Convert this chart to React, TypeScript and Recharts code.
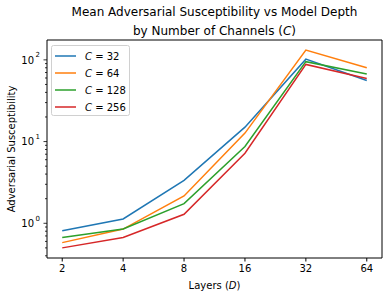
import React from 'react';
import { LineChart, Line, XAxis, YAxis } from 'recharts';

const layers = [2, 4, 8, 16, 32, 64];
const c32 = [0.81, 1.13, 3.35, 15.0, 102, 56];
const c64 = [0.58, 0.85, 2.16, 12.7, 132, 80];
const c128 = [0.67, 0.85, 1.74, 8.7, 95, 67];
const c256 = [0.5, 0.67, 1.29, 7.2, 88, 59];
const channelLabels = ['32', '64', '128', '256'];
const seriesKeys = ['c32', 'c64', 'c128', 'c256'];
const colors = ['#1f77b4', '#ff7f0e', '#2ca02c', '#d62728'];
const yMajor = [1, 10, 100];
const yMinor = [0.4, 0.5, 0.6, 0.7, 0.8, 0.9, 2, 3, 4, 5, 6, 7, 8, 9, 20, 30, 40, 50, 60, 70, 80, 90];
const yExp: Record<number, string> = { 1: '0', 10: '1', 100: '2' };

const data = layers.map((d, i) => ({ D: d, c32: c32[i], c64: c64[i], c128: c128[i], c256: c256[i] }));

const FONT = '"DejaVu Sans", sans-serif';
const M = { top: 40, right: 7, bottom: 42, left: 47 };
const W = 389;
const H = 300;

const YTick = (props: any) => {
  const { x, y, payload } = props;
  const v = payload.value;
  const major = yMajor.includes(v);
  const len = major ? 3.5 : 2;
  return (
    <g>
      <line x1={x - len} x2={x} y1={y} y2={y} stroke="#000" strokeWidth={0.8} />
      {major && (
        <text x={x - 3.5 - 3.5 - 6} y={y} dy="0.38em" textAnchor="end" fontSize={10} fontFamily={FONT} fill="#000">
          10
        </text>
      )}
      {major && (
        <text x={x - 3.5 - 3.5} y={y - 4} dy="0.2em" textAnchor="end" fontSize={7} fontFamily={FONT} fill="#000">
          {yExp[v]}
        </text>
      )}
    </g>
  );
};

export default function App() {
  return (
    <div style={{ position: 'absolute', left: 0, top: 0, width: W, height: H, background: '#fff' }}>
      <LineChart width={W} height={H} data={data} margin={{ top: M.top, right: M.right, bottom: 0, left: 0 }}>
        <XAxis
          dataKey="D"
          type="number"
          scale="log"
          domain={[2 / Math.pow(2, 0.25), 64 * Math.pow(2, 0.25)]}
          allowDataOverflow
          ticks={layers}
          interval={0}
          height={M.bottom}
          tickSize={3.5}
          tickMargin={3.5}
          stroke="#000"
          tick={{ fontSize: 10, fontFamily: FONT, fill: '#000' }}
        />
        <YAxis
          type="number"
          scale="log"
          domain={[0.376, 175]}
          allowDataOverflow
          ticks={[...yMajor, ...yMinor]}
          interval={0}
          width={M.left}
          tickSize={0}
          tickMargin={0}
          tickLine={false}
          stroke="#000"
          tick={<YTick />}
        />
        {seriesKeys.map((k, i) => (
          <Line key={k} dataKey={k} stroke={colors[i]} strokeWidth={1.5} dot={false} isAnimationActive={false} />
        ))}
      </LineChart>
      <svg width={W} height={H} style={{ position: 'absolute', left: 0, top: 0, pointerEvents: 'none' }}>
        <line x1={M.left} x2={W - M.right} y1={M.top} y2={M.top} stroke="#000" strokeWidth={1} />
        <line x1={W - M.right} x2={W - M.right} y1={M.top} y2={H - M.bottom} stroke="#000" strokeWidth={1} />
        <text x={214.5} y={12} dy="0.35em" textAnchor="middle" fontSize={12} fontFamily={FONT} fill="#000">
          Mean Adversarial Susceptibility vs Model Depth
        </text>
        <text x={214.5} y={31} dy="0.35em" textAnchor="middle" fontSize={12} fontFamily={FONT} fill="#000">
          by Number of Channels (<tspan fontStyle="italic">C</tspan>)
        </text>
        <text x={214.5} y={285} dy="0.35em" textAnchor="middle" fontSize={10} fontFamily={FONT} fill="#000">
          Layers (<tspan fontStyle="italic">D</tspan>)
        </text>
        <text
          x={11.5}
          y={149}
          dy="0.35em"
          textAnchor="middle"
          fontSize={10}
          fontFamily={FONT}
          fill="#000"
          transform="rotate(-90 11.5 149)"
        >
          Adversarial Susceptibility
        </text>
        <rect x={51.5} y={45.5} width={78} height={70} rx={2} fill="#fff" fillOpacity={0.8} stroke="#d0d0d0" strokeWidth={1} />
        {channelLabels.map((c, i) => (
          <g key={c}>
            <line x1={55} x2={76} y1={56 + i * 17} y2={56 + i * 17} stroke={colors[i]} strokeWidth={1.5} />
            <text x={85} y={56 + i * 17} dy="0.35em" fontSize={10} fontFamily={FONT} fill="#000">
              <tspan fontStyle="italic">C</tspan> = {c}
            </text>
          </g>
        ))}
      </svg>
    </div>
  );
}
